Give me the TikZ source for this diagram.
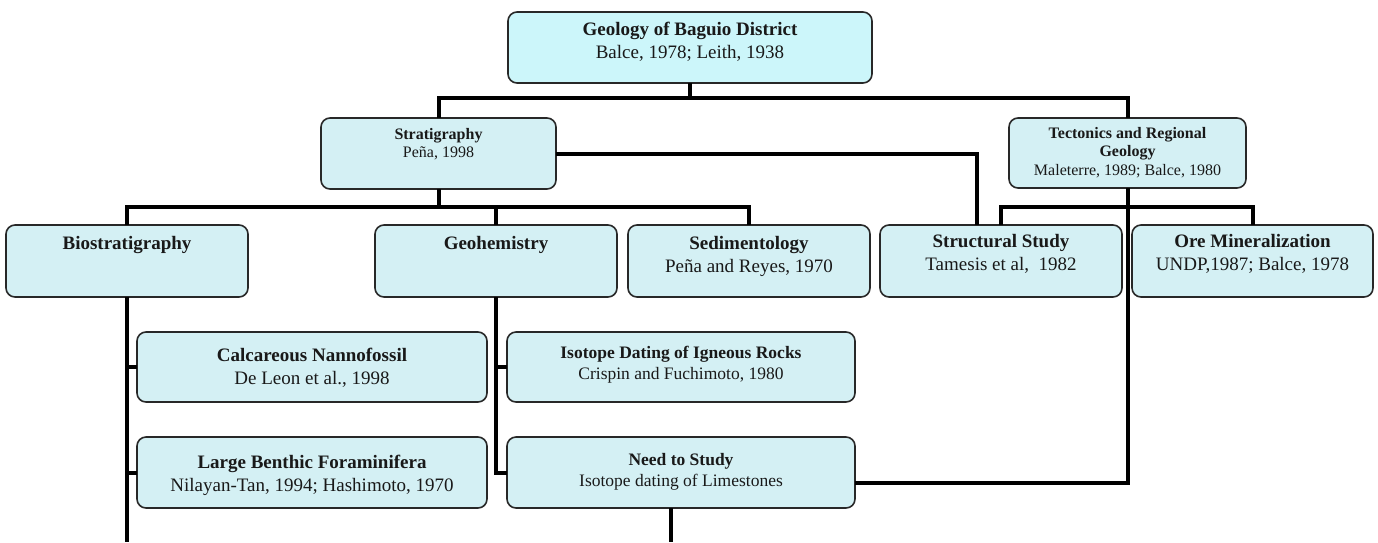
\documentclass[tikz,border=0pt]{standalone}
\usepackage{fontspec}
\setmainfont{LiberationSerif}[Extension=.ttf, UprightFont=*-Regular, BoldFont=*-Bold, ItalicFont=*-Italic, BoldItalicFont=*-BoldItalic]
\usetikzlibrary{calc}
\definecolor{boxfill}{RGB}{212,240,244}
\definecolor{topfill}{RGB}{204,246,250}
\definecolor{boxline}{RGB}{40,40,40}
\newcommand{\FsA}{\fontsize{19}{23}\selectfont}
\newcommand{\FsB}{\fontsize{16}{18.5}\selectfont}
\newcommand{\FsC}{\fontsize{17.5}{21}\selectfont}
\tikzset{
  box/.style={draw=boxline, line width=1.6pt, fill=boxfill, rounded corners=9pt, inner sep=0pt, outer sep=0pt},
  lab/.style={anchor=north, align=center, inner sep=0pt, text=black!90},
  conn/.style={line width=4pt, draw=black},
}
\begin{document}
\begin{tikzpicture}[x=1pt, y=-1pt]
\useasboundingbox (0,0) rectangle (1378,542);
% boxes
\node[box, fill=topfill, minimum width=364pt, minimum height=71pt] (geo) at (690,47.5) {};
\node[box, minimum width=235pt, minimum height=71pt] (strat) at (438.5,153.5) {};
\node[box, minimum width=237pt, minimum height=70pt] (tect) at (1127.5,153) {};
\node[box, minimum width=242pt, minimum height=72pt] (bio) at (127,261) {};
\node[box, minimum width=242pt, minimum height=72pt] (geoch) at (496,261) {};
\node[box, minimum width=242pt, minimum height=72pt] (sed) at (749,261) {};
\node[box, minimum width=242pt, minimum height=72pt] (struct) at (1001,261) {};
\node[box, minimum width=241pt, minimum height=72pt] (ore) at (1252.5,261) {};
\node[box, minimum width=350pt, minimum height=70pt] (calc) at (312,367) {};
\node[box, minimum width=350pt, minimum height=71pt] (lbf) at (312,472.5) {};
\node[box, minimum width=348pt, minimum height=70pt] (iso) at (681,367) {};
\node[box, minimum width=348pt, minimum height=71pt] (need) at (681,472.5) {};
% texts
\node[lab, font=\FsA] (geoT) at ($(geo.north)+(0,6.9)$) {\strut\textbf{Geology of Baguio District}\\Balce, 1978; Leith, 1938};
\node[lab, font=\FsB] (stratT) at ($(strat.north)+(0,8)$) {\strut\textbf{Stratigraphy}\\Peña, 1998};
\node[lab, font=\FsB] (tectT) at ($(tect.north)+(0,7)$) {\strut\textbf{Tectonics and Regional}\\\textbf{Geology}\\Maleterre, 1989; Balce, 1980};
\node[lab, font=\FsA] (bioT) at ($(bio.north)+(0,7.9)$) {\strut\textbf{Biostratigraphy}};
\node[lab, font=\FsA] (geochT) at ($(geoch.north)+(0,7.9)$) {\strut\textbf{Geohemistry}};
\node[lab, font=\FsA] (sedT) at ($(sed.north)+(0,7.9)$) {\strut\textbf{Sedimentology}\\Peña and Reyes, 1970};
\node[lab, font=\FsA] (structT) at ($(struct.north)+(0,5.9)$) {\strut\textbf{Structural Study}\\Tamesis et al,~ 1982};
\node[lab, font=\FsA] (oreT) at ($(ore.north)+(0,5.9)$) {\strut\textbf{Ore Mineralization}\\UNDP,1987; Balce, 1978};
\node[lab, font=\FsA] (calcT) at ($(calc.north)+(0,12.9)$) {\strut\textbf{Calcareous Nannofossil}\\De Leon et al., 1998};
\node[lab, font=\FsA] (lbfT) at ($(lbf.north)+(0,14.9)$) {\strut\textbf{Large Benthic Foraminifera}\\Nilayan-Tan, 1994; Hashimoto, 1970};
\node[lab, font=\FsC] (isoT) at ($(iso.north)+(0,11.3)$) {\strut\textbf{Isotope Dating of Igneous Rocks}\\Crispin and Fuchimoto, 1980};
\node[lab, font=\FsC] (needT) at ($(need.north)+(0,13.3)$) {\strut\textbf{Need to Study}\\Isotope dating of Limestones};
% helper coordinates
\coordinate (busA) at (0,98);
\coordinate (busB) at (0,207);
\coordinate (bottom) at (0,542);
\coordinate (strIn) at ($(struct.north)+(-24,0)$);
\coordinate (needIn) at ($(need.east)+(0,10)$);
\coordinate (needOut) at ($(need.south)+(-10,0)$);
% connectors
\draw[conn] (geo.south) -- (geo.south |- busA);
\draw[conn] (strat.north) -- (strat.north |- busA) -- (tect.north |- busA) -- (tect.north);
\draw[conn] (strat.east) -| (strIn);
\draw[conn] (strat.south) -- (strat.south |- busB);
\draw[conn] (bio.north) -- (bio.north |- busB) -- (sed.north |- busB) -- (sed.north);
\draw[conn] (geoch.north) -- (geoch.north |- busB);
\draw[conn] (struct.north) -- (struct.north |- busB) -- (ore.north |- busB) -- (ore.north);
\draw[conn] (tect.south) |- (needIn);
\draw[conn] (bio.south) -- (bio.south |- bottom);
\draw[conn] (calc.west) -- (calc.west -| bio.south);
\draw[conn] (lbf.west) -- (lbf.west -| bio.south);
\draw[conn] (geoch.south) |- (need.west);
\draw[conn] (iso.west) -- (iso.west -| geoch.south);
\draw[conn] (needOut) -- (needOut |- bottom);
\end{tikzpicture}
\end{document}
